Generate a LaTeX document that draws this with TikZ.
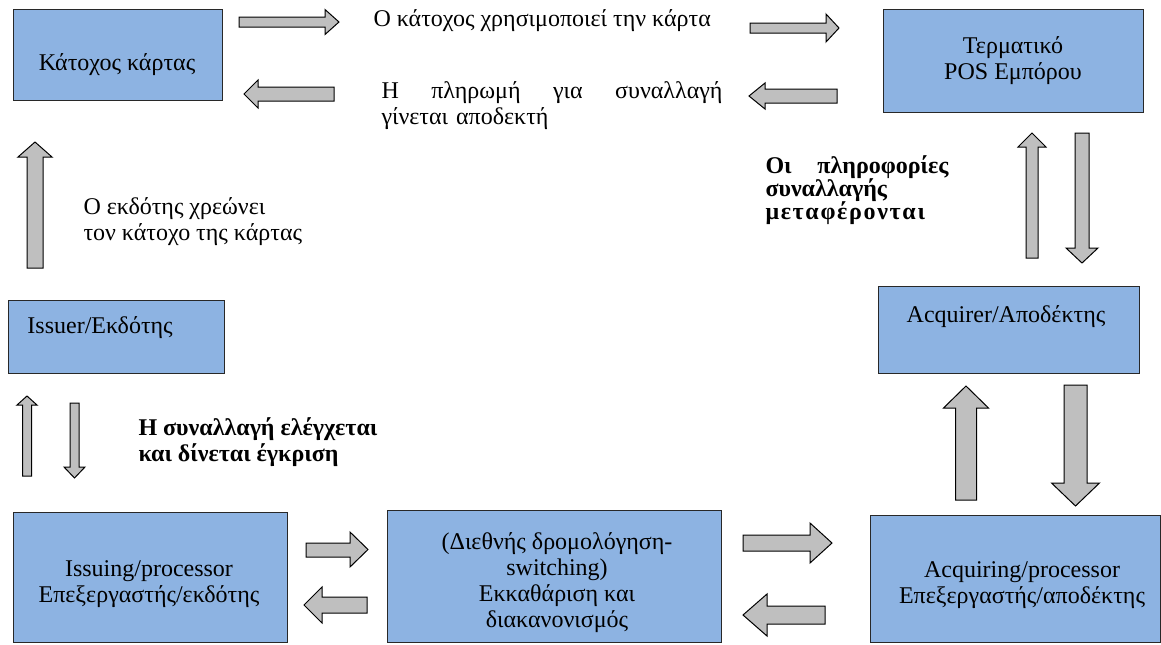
\documentclass[tikz,border=0pt]{standalone}
\usepackage{fontspec}
\setmainfont{Liberation Serif}

\tikzset{every picture/.style={line width=0.75pt}}
\tikzset{
  cardbox/.style={draw={rgb, 255:red, 40; green, 40; blue, 40}, fill={rgb, 255:red, 141; green, 179; blue, 226}, line width=0.75, inner sep=0pt, outer sep=0pt},
  blockarr/.style={draw={rgb, 255:red, 0; green, 0; blue, 0}, fill={rgb, 255:red, 191; green, 191; blue, 191}, line width=0.75},
  txt/.style={inner sep=0pt, font=\fontsize{18}{19.5}\selectfont},
  boldtxt/.style={txt, font=\fontsize{18}{19.5}\selectfont\bfseries}
}

\begin{document}
\begin{tikzpicture}[x=0.75pt,y=0.75pt,yscale=-1,xscale=1]
    \useasboundingbox (0,0) rectangle (1161,644);

    %Shape: Rectangle [holder]
    \node [cardbox, minimum width=156.75pt, minimum height=68.25pt] (holder) at (117.5,54.5) {};
    %Shape: Rectangle [pos]
    \node [cardbox, minimum width=195pt, minimum height=77.25pt] (pos) at (1013,60.5) {};
    %Shape: Rectangle [issuer]
    \node [cardbox, minimum width=162pt, minimum height=54.75pt] (issuer) at (116,336.5) {};
    %Shape: Rectangle [acquirer]
    \node [cardbox, minimum width=195.75pt, minimum height=65.25pt] (acquirer) at (1008.5,329.5) {};
    %Shape: Rectangle [issproc]
    \node [cardbox, minimum width=205.5pt, minimum height=97.5pt] (issproc) at (150,577) {};
    %Shape: Rectangle [switching]
    \node [cardbox, minimum width=250.5pt, minimum height=99pt] (switching) at (554,576) {};
    %Shape: Rectangle [acqproc]
    \node [cardbox, minimum width=217.5pt, minimum height=95.25pt] (acqproc) at (1015,578.5) {};

    %Shape: Right Arrow
    \draw [blockarr] (239,17) -- (325,17) -- (325,9.5) -- (339,22) -- (325,34.5) -- (325,27) -- (239,27) -- cycle ;
    %Shape: Left Arrow
    \draw [blockarr] (334,87) -- (258,87) -- (258,80) -- (244,94) -- (258,108) -- (258,101) -- (334,101) -- cycle ;
    %Shape: Right Arrow
    \draw [blockarr] (750,23) -- (826,23) -- (826,14) -- (839,28) -- (826,42) -- (826,33) -- (750,33) -- cycle ;
    %Shape: Left Arrow
    \draw [blockarr] (837,89) -- (765,89) -- (765,83) -- (749,96) -- (765,109) -- (765,103) -- (837,103) -- cycle ;
    %Shape: Right Arrow
    \draw [blockarr] (306,543) -- (350,543) -- (350,532) -- (368,549.5) -- (350,567) -- (350,557) -- (306,557) -- cycle ;
    %Shape: Left Arrow
    \draw [blockarr] (367,597) -- (322,597) -- (322,587) -- (304,605) -- (322,623) -- (322,613) -- (367,613) -- cycle ;
    %Shape: Right Arrow
    \draw [blockarr] (743,535) -- (810,535) -- (810,523) -- (832,543) -- (810,563) -- (810,551) -- (743,551) -- cycle ;
    %Shape: Left Arrow
    \draw [blockarr] (825,606) -- (767,606) -- (767,594) -- (743,615) -- (767,636) -- (767,624) -- (825,624) -- cycle ;

    %Shape: Up Arrow
    \draw [blockarr] (27,268) -- (27,157) -- (18,157) -- (35,142) -- (52,157) -- (43,157) -- (43,268) -- cycle ;
    %Shape: Up Arrow
    \draw [blockarr] (1026,258) -- (1026,147) -- (1018,147) -- (1032,133) -- (1046,147) -- (1038,147) -- (1038,258) -- cycle ;
    %Shape: Down Arrow
    \draw [blockarr] (1075,133) -- (1075,248) -- (1066,248) -- (1082,263) -- (1098,248) -- (1089,248) -- (1089,133) -- cycle ;
    %Shape: Up Arrow
    \draw [blockarr] (22.5,476) -- (22.5,405) -- (17,405) -- (27,396) -- (37,405) -- (31.5,405) -- (31.5,476) -- cycle ;
    %Shape: Down Arrow
    \draw [blockarr] (70,403) -- (70,467) -- (64,467) -- (74.5,478) -- (85,467) -- (79,467) -- (79,403) -- cycle ;
    %Shape: Up Arrow
    \draw [blockarr] (955.5,500) -- (955.5,408) -- (943.5,408) -- (966,386) -- (988.5,408) -- (976.5,408) -- (976.5,500) -- cycle ;
    %Shape: Down Arrow
    \draw [blockarr] (1064,385) -- (1064,483) -- (1051.5,483) -- (1075.5,506) -- (1099.5,483) -- (1087,483) -- (1087,385) -- cycle ;

    % Text Node
    \node [txt, anchor=base] (holder-txt) at (117,70) {Κάτοχος κάρτας};
    % Text Node
    \node [txt, anchor=base, align=center] (pos-txt) at (1013,79) {Τερματικό\\POS Εμπόρου};
    % Text Node
    \node [txt, anchor=base west] (issuer-txt) at (27,333) {Issuer/Εκδότης};
    % Text Node
    \node [txt, anchor=base] (acquirer-txt) at (1006,322) {Acquirer/Αποδέκτης};
    % Text Node
    \node [txt, anchor=base, align=center] (issproc-txt) at (149,602) {Issuing/processor\\Επεξεργαστής/εκδότης};
    % Text Node
    \node [txt, anchor=base, align=center] (switching-txt) at (557,627) {(Διεθνής δρομολόγηση-\\switching)\\Εκκαθάριση και\\διακανονισμός};
    % Text Node
    \node [txt, anchor=base, align=center] (acqproc-txt) at (1022,603) {Acquiring/processor\\Επεξεργαστής/αποδέκτης};

    % Text Node
    \node [txt, anchor=base west] (uses-txt) at (373,26) {Ο κάτοχος χρησιμοποιεί την κάρτα};
    % Text Node
    \node [txt, anchor=base west, text width=255.75pt, align=left] (accepted-txt) at (381,98) {Η\hfill πληρωμή\hfill για\hfill συναλλαγή\\γίνεται αποδεκτή};
    % Text Node
    \node [txt, anchor=base west, align=left] (charges-txt) at (83,240) {Ο εκδότης χρεώνει\\τον κάτοχο της κάρτας};
    % Text Node
    \node [boldtxt, font=\fontsize{18}{17.5}\selectfont\bfseries, anchor=base west, text width=137.25pt, align=left] (info-txt) at (765,173) {Οι\hfill πληροφορίες\\συναλλαγής\\{\addfontfeature{LetterSpace=7}μεταφέρονται}};
    % Text Node
    \node [boldtxt, anchor=base west, align=left] (check-txt) at (138,461) {Η συναλλαγή ελέγχεται\\και δίνεται έγκριση};

\end{tikzpicture}
\end{document}
